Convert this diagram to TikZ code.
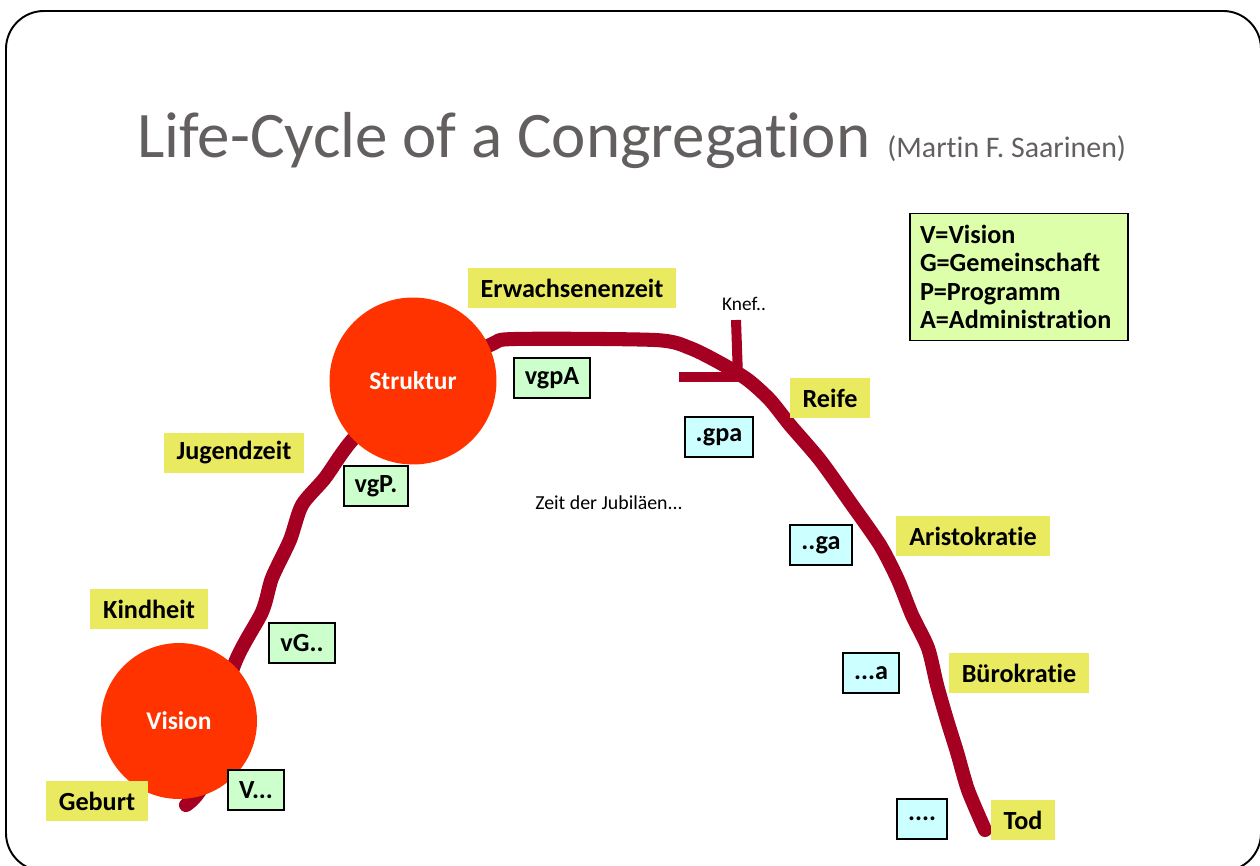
\documentclass[tikz,border=0pt]{standalone}
\usepackage{fontspec}
\setmainfont{Carlito}[RawFeature={-liga}]
\definecolor{titlegray}{RGB}{99,95,95}
\definecolor{phaseyellow}{RGB}{234,234,96}
\definecolor{upgreen}{RGB}{204,255,204}
\definecolor{downcyan}{RGB}{204,255,255}
\definecolor{keygreen}{RGB}{221,255,170}
\definecolor{stagered}{RGB}{255,51,0}
\definecolor{lifered}{RGB}{165,0,33}

\begin{document}
\begin{tikzpicture}[x=0.02cm,y=-0.02cm,
    phase/.style={fill=phaseyellow, font=\bfseries\fontsize{14.9}{17}\selectfont,
                  inner xsep=7.4pt, minimum height=23.3pt},
    mixbox/.style={draw=black, line width=1.1pt, font=\bfseries\fontsize{14.9}{17}\selectfont,
                   inner xsep=6.3pt, minimum height=22.5pt},
    upbox/.style={mixbox, fill=upgreen},
    downbox/.style={mixbox, fill=downcyan},
    stage/.style={circle, fill=stagered, text=white, inner sep=0pt,
                  font=\bfseries\fontsize{14.5}{16}\selectfont},
    lifeline/.style={draw=lifered, line width=8pt, line cap=round, line join=round}]
                    \useasboundingbox (0,0) rectangle (1260,865);
                    \clip (0,0) rectangle (1260,865);
                    \draw[line width=1.1pt, rounded corners=21.6pt] (6,11) rectangle (1261,871);

                    \node (title)  [anchor=base west, inner sep=0pt, text=titlegray,
                                    font=\fontsize{37}{40}\selectfont]
                                   at (137,157) {Life-Cycle of a Congregation};
                    \node (author) [anchor=base west, inner sep=0pt, text=titlegray,
                                    font=\fontsize{17}{20}\selectfont]
                                   at (887,157) {(Martin F. Saarinen)};

                    \coordinate (birth) at (186,805);
                    \coordinate (death) at (985,830);
                    \draw[lifeline] plot[smooth, tension=0.45] coordinates {
                        (birth) (205,780) (233,668) (262,612) (272,578) (290,540) (302,505)
                        (325,478) (355,437) (420,380) (490,345) (515,339) (655,340) (690,348)
                        (722,364) (748,380) (770,400) (790,425) (820,460) (850,502) (880,545)
                        (898,580) (912,615) (928,648) (937,685) (947,720) (957,752) (968,790)
                        (death)};

                    \coordinate (knefTop)  at (736,320);
                    \coordinate (knefMid)  at (738,377);
                    \coordinate (knefLeft) at (679,377);
                    \draw[draw=lifered, line width=5.7pt] (knefTop) -- (knefMid);
                    \draw[draw=lifered, line width=5.7pt] (knefLeft) -- (knefMid);
                    \node (knef) [font=\fontsize{11}{13}\selectfont] at (744,304) {Knef..};

                    \node (vision)   [stage, minimum size=3.12cm] at (179,721) {Vision};
                    \node (struktur) [stage, minimum size=3.34cm] at (413,381) {Struktur};

                    \node (geburt)    [phase] at (97,801)  {Geburt};
                    \node (kindheit)  [phase] at (149,609) {Kindheit};
                    \node (jugend)    [phase] at (234,453) {Jugendzeit};
                    \node (erwachsen) [phase] at (572,288) {Erwachsenenzeit};
                    \node (reife)     [phase] at (830,398) {Reife};
                    \node (aristo)    [phase] at (973,536) {Aristokratie};
                    \node (buero)     [phase] at (1019,673) {Bürokratie};
                    \node (tod)       [phase] at (1023,820) {Tod};

                    \node (v)    [upbox] at (256,790) {V...};
                    \node (vg)   [upbox] at (302,643) {vG..};
                    \node (vgp)  [upbox] at (376,486) {vgP.};
                    \node (vgpa) [upbox] at (552,378) {vgpA};

                    \node (gpa)  [downbox] at (719,437) {.gpa};
                    \node (ga)   [downbox] at (821,545) {..ga};
                    \node (a)    [downbox] at (871,673) {...a};
                    \node (none) [downbox] at (922,819) {....};

                    \node (jubel) [font=\fontsize{11.3}{13}\selectfont] at (609,503) {Zeit der Jubiläen...};

                    \node (key) [draw=black, line width=1.1pt, fill=keygreen, align=left,
                                 font=\bfseries\fontsize{14.9}{16.2}\selectfont,
                                 minimum width=218*0.02cm, minimum height=127*0.02cm,
                                 text width=198*0.02cm] at (1019,277)
                        {V=Vision\\G=Gemeinschaft\\P=Programm\\A=Administration};
                \end{tikzpicture}
\end{document}
